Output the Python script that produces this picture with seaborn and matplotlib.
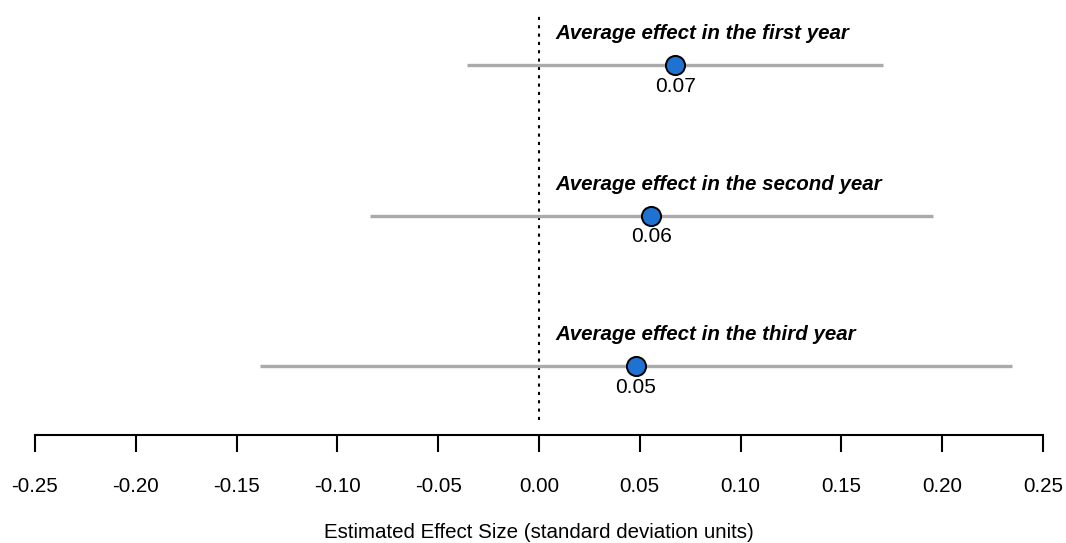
import matplotlib
matplotlib.use("Agg")
import matplotlib.pyplot as plt
import seaborn as sns
import pandas as pd

labels = ["Average effect in the first year",
          "Average effect in the second year",
          "Average effect in the third year"]
estimates = [0.0675, 0.0556, 0.0481]
ci_low = [-0.0357, -0.0838, -0.1384]
ci_high = [0.1706, 0.1954, 0.2346]
value_text = ["0.07", "0.06", "0.05"]
xticks = [-0.25, -0.20, -0.15, -0.10, -0.05, 0.00, 0.05, 0.10, 0.15, 0.20, 0.25]

sns.set_style("white")
plt.rcParams['font.family'] = ['Liberation Sans', 'DejaVu Sans']
plt.rcParams['text.color'] = 'black'
plt.rcParams['axes.labelcolor'] = 'black'
plt.rcParams['xtick.color'] = 'black'

df = pd.DataFrame({"label": labels, "est": estimates, "lo": ci_low, "hi": ci_high,
                   "row": range(len(labels))})

fig = plt.figure(figsize=(10.66, 5.43), dpi=100)
ax = fig.add_axes([35/1066, (543-435)/543, 1008/1066, 435/543])

ax.hlines(df["row"], df["lo"], df["hi"], color="#aaaaaa", lw=2.4, zorder=1)
ax.axvline(0, ymin=15/435, ymax=(435-14)/435, color="black", ls=(0, (1.5, 2.5)), lw=1.5, zorder=0)
sns.scatterplot(data=df, x="est", y="row", ax=ax, s=190, color="#1f72d1",
                edgecolor="black", linewidth=1.4, zorder=3, legend=False)

for i, r in df.iterrows():
    ax.text(0.008, r["row"] - 0.207, r["label"], fontsize=14.8, fontweight="bold",
            fontstyle="italic", ha="left", va="center", color="black")
    ax.text(r["est"], r["row"] + 0.14, value_text[i], fontsize=15, ha="center", va="center",
            color="black")

ax.set_xlim(-0.25, 0.25)
ax.set_ylim(2.458, -0.432)
ax.set_xticks(xticks)
ax.set_xticklabels([f"{t:.2f}" for t in xticks], fontsize=14.8)
ax.set_yticks([])
ax.set_ylabel("")
ax.set_xlabel("Estimated Effect Size (standard deviation units)", fontsize=14.8, labelpad=20)
for s in ["top", "left", "right"]:
    ax.spines[s].set_visible(False)
ax.spines["bottom"].set_linewidth(1.5)
ax.spines["bottom"].set_color("black")
ax.tick_params(axis="x", direction="out", length=12, width=1.5, pad=18, bottom=True, colors="black")

fig.savefig("out.png", dpi=100)
